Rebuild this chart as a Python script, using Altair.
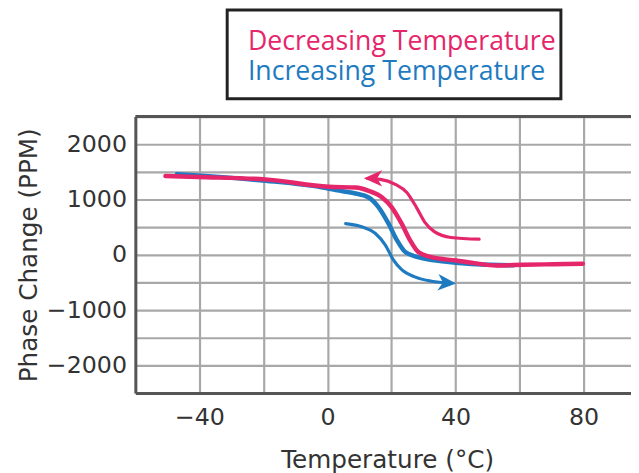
import altair as alt
import pandas as pd

PINK = "#e5266b"
BLUE = "#1e7bc1"

# Decreasing temperature – main curve
dec_T = [-50.6, -40.5, -19.5, 0.4, 8.8, 12.9, 17.1, 20.1, 23.2, 25.8, 28.3, 32.5, 40.2, 45.8, 52.9, 61.2, 70.5, 79.8]
dec_P = [1424, 1406, 1365, 1232, 1216, 1157, 1037, 859, 563, 266, 57, -43, -103, -150, -193, -180, -171, -162]

# Decreasing temperature – arrow path (drawn right to left)
decA_T = [47.4, 38.6, 33.5, 30.4, 27.8, 24.8, 21.2, 16.5, 12.5]
decA_P = [283, 314, 414, 592, 859, 1127, 1276, 1365, 1380]

# Increasing temperature – main curve
inc_T = [-47.0, -21.1, -0.4, 2.6, 8.8, 12.9, 16.0, 19.1, 21.7, 24.2, 28.3, 36.6, 43.8, 51.0, 58.2]
inc_P = [1460, 1348, 1205, 1169, 1109, 1037, 859, 563, 266, 57, -43, -121, -162, -180, -189]

# Increasing temperature – arrow path (left to right)
incA_T = [5.7, 10.9, 15.0, 18.1, 20.6, 23.2, 27.3, 32.5, 38.5]
incA_P = [563, 503, 385, 176, -91, -269, -399, -478, -512]

# Arrow heads (tip position and direction)
arrow_series = ["dec", "inc"]
arrow_T = [11.4, 40.2]
arrow_P = [1383, -519]
arrow_angle = [180, 4]

x_grid = [-60, -40, -20, 0, 20, 40, 60, 80]
y_grid = [-2500, -2000, -1500, -1000, -500, 0, 500, 1000, 1500, 2000, 2500]

legend_labels = ["Decreasing Temperature", "Increasing Temperature"]

rows = []
for name, T, P in [("dec", dec_T, dec_P), ("decA", decA_T, decA_P),
                   ("inc", inc_T, inc_P), ("incA", incA_T, incA_P)]:
    for t, p in zip(T, P):
        rows.append({"series": name, "T": t, "P": p})
df = pd.DataFrame(rows)

heads = pd.DataFrame({"series": arrow_series, "T": arrow_T, "P": arrow_P, "angle": arrow_angle})

W, H = 502, 280
XMIN, XMAX = -60, 94.84

xs = alt.Scale(domain=[XMIN, XMAX], nice=False, zero=False)
ys = alt.Scale(domain=[-2500, 2500], nice=False, zero=False)

x_axis = alt.Axis(values=x_grid,
                  labelExpr="datum.value % 40 == 0 ? datum.label : ''",
                  title="Temperature (°C)", ticks=False, grid=True,
                  labelPadding=13, titlePadding=18, titleX=255)
y_axis = alt.Axis(values=y_grid,
                  labelExpr="(datum.value % 1000 == 0 && abs(datum.value) <= 2000) ? format(datum.value, 'd') : ''",
                  title="Phase Change (PPM)", ticks=False, grid=True,
                  labelPadding=9, titlePadding=5)

X = alt.X("T:Q", scale=xs, axis=x_axis)
Y = alt.Y("P:Q", scale=ys, axis=y_axis)

def series_line(name, color, width):
    return alt.Chart(df).transform_filter(alt.datum.series == name).mark_line(
        color=color, strokeWidth=width, interpolate="monotone", strokeCap="round"
    ).encode(x=X, y=Y)

lines = [
    series_line("inc", BLUE, 4.5),
    series_line("incA", BLUE, 3.2),
    series_line("dec", PINK, 4.5),
    series_line("decA", PINK, 3.2),
]

ARROW = "M0,0 L-2,-0.9 L-1.45,0 L-2,0.9 Z"
heads_layer = alt.Chart(heads).mark_point(
    shape=ARROW, filled=True, size=340, opacity=1, strokeWidth=0
).encode(
    x=X, y=Y,
    angle=alt.Angle("angle:Q", scale=None),
    color=alt.Color("series:N", scale=alt.Scale(domain=["dec", "inc"], range=[PINK, BLUE]), legend=None),
)

one = pd.DataFrame({"a": [0]})
top_border = alt.Chart(one).mark_rule(color="#555555", strokeWidth=3).encode(
    x=alt.value(0), x2=alt.value(W), y=alt.value(0)
)

legend_box = alt.Chart(one).mark_rect(fill="white", stroke="#222222", strokeWidth=3).encode(
    x=alt.value(93), x2=alt.value(431), y=alt.value(-108), y2=alt.value(-18)
)
leg1 = alt.Chart(one).mark_text(align="left", baseline="alphabetic", font="Open Sans",
                                 fontSize=27, color=PINK, text=legend_labels[0]).encode(
    x=alt.value(114), y=alt.value(-67))
leg2 = alt.Chart(one).mark_text(align="left", baseline="alphabetic", font="Open Sans",
                                 fontSize=27, color=BLUE, text=legend_labels[1]).encode(
    x=alt.value(114), y=alt.value(-37))

chart = alt.layer(*lines, heads_layer, top_border, legend_box, leg1, leg2).properties(
    width=W, height=H,
    autosize=alt.AutoSizeParams(type="none"),
    padding={"left": 129, "top": 107, "right": 0, "bottom": 78},
).configure_view(stroke=None).configure_axis(
    gridColor="#a8a8a8", gridWidth=2.2, gridOpacity=1,
    domainColor="#555555", domainWidth=3,
    labelFont="DejaVu Sans", labelFontSize=24, labelColor="#333333",
    titleFont="DejaVu Sans", titleFontSize=25, titleColor="#333333", titleFontWeight="normal",
)

chart.save("out.html", embed_options={"renderer": "svg", "actions": False})
